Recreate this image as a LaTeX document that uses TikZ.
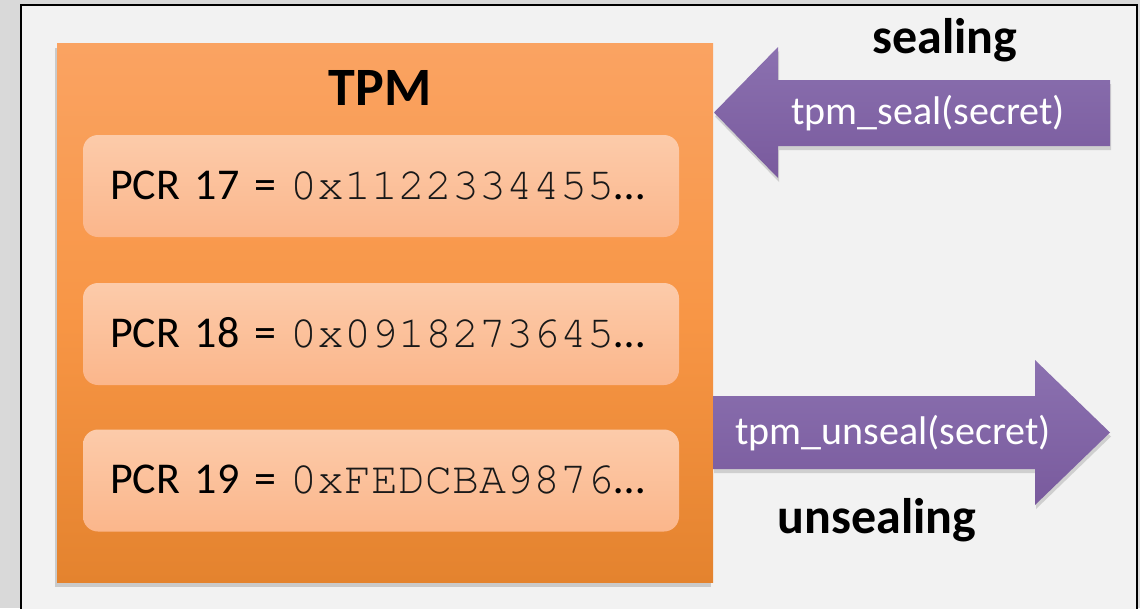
\documentclass[tikz,border=0pt]{standalone}
\usepackage{fontspec}
\setmainfont{Carlito}
\newfontfamily\hexfont{TeX Gyre Cursor}
\usetikzlibrary{shadows}

\definecolor{outergray}{RGB}{217,217,217}
\definecolor{panelgray}{RGB}{242,242,242}
\definecolor{tpmtop}{RGB}{250,163,98}
\definecolor{tpmmid}{RGB}{248,150,70}
\definecolor{tpmbot}{RGB}{228,131,46}
\definecolor{pcrtop}{RGB}{252,203,170}
\definecolor{pcrbot}{RGB}{251,182,139}
\definecolor{arrowtop}{RGB}{139,113,176}
\definecolor{arrowbot}{RGB}{121,90,157}

\newcommand{\hexval}[1]{{\hexfont\fontsize{45}{54}\selectfont\color{black!90}#1}}

\tikzset{
  tpmbox/.style={minimum width=656pt, minimum height=539pt, inner sep=0pt,
    top color=tpmtop, bottom color=tpmbot, middle color=tpmmid,
    drop shadow={shadow xshift=-2pt, shadow yshift=-5pt, opacity=0.35}},
  pcrbox/.style={rounded corners=15pt, minimum height=102pt, text width=542pt,
    inner xsep=27pt, align=left, top color=pcrtop, bottom color=pcrbot,
    font=\fontsize{44}{54}\selectfont, text height=29pt, text depth=3pt},
  bigarrow/.style={top color=arrowtop, bottom color=arrowbot,
    drop shadow={shadow xshift=1pt, shadow yshift=-4pt, opacity=0.3}},
  arrowtext/.style={text=white, font=\fontsize{40}{48}\selectfont},
  modetext/.style={font=\fontsize{50}{60}\selectfont\bfseries},
}

\begin{document}
\begin{tikzpicture}[x=1pt, y=-1pt]
    \useasboundingbox (0,0) rectangle (1140,608);
    % Draw background and frame
    \fill[outergray] (0,0) rectangle (1140,608);
    \draw[line width=2pt, fill=panelgray] (21,5) rectangle (1137,620);

    % Draw TPM chip
    \node[tpmbox] (tpm) at (385,312.5) {};
    \node[font=\fontsize{54}{64}\selectfont\bfseries, anchor=base] (tpmlabel) at (380,105) {TPM};

    % Add PCR registers
    \foreach \num/\ypos/\hex in {17/186/0x1122334455, 18/334/0x0918273645, 19/480.5/0xFEDCBA9876} {
        \node[pcrbox] (pcr\num) at (381,\ypos) {PCR \num{} = \hexval{\hex}…};
    }

    % Draw sealing and unsealing arrows
    \coordinate (sealtip) at (714,112.5);
    \coordinate (unsealtip) at (1110,432.5);
    \path[bigarrow] (sealtip) -- (778,47) -- (778,80) -- (1110,80) -- (1110,146)
        -- (778,146) -- (778,178) -- cycle;
    \path[bigarrow] (713,396) -- (1035,396) -- (1035,360) -- (unsealtip)
        -- (1035,505) -- (1035,469) -- (713,469) -- cycle;

    % Add labels
    \node[arrowtext] (seallabel) at (928,113) {tpm\_seal(secret)};
    \node[arrowtext] (unseallabel) at (893,433) {tpm\_unseal(secret)};
    \node[modetext, anchor=base] (sealing) at (945,53) {sealing};
    \node[modetext, anchor=base] (unsealing) at (877,533) {unsealing};
\end{tikzpicture}
\end{document}
